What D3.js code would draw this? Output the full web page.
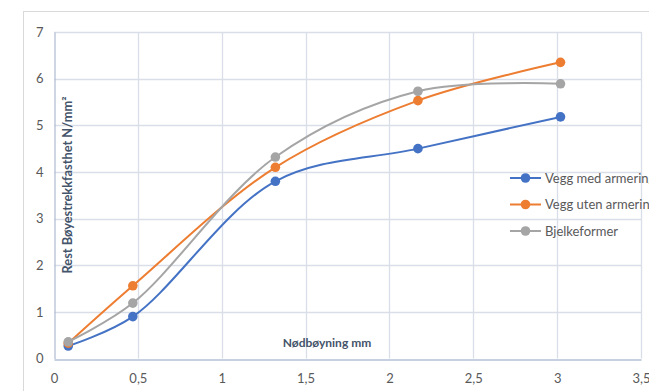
<!DOCTYPE html>
<html><head><meta charset="utf-8">
<script src="https://cdn.jsdelivr.net/npm/d3@7"></script>
<style>
html,body{margin:0;padding:0;background:#fff;overflow:hidden}
svg{display:block;font-family:Lato,"Open Sans",sans-serif}
</style></head>
<body>
<svg id="c" width="649" height="391"></svg>
<script>
const xValues = [0.085, 0.47, 1.32, 2.17, 3.02];
const seriesNames = ["Vegg med armering", "Vegg uten armering", "Bjelkeformer"];
const vegMed   = [0.27, 0.90, 3.80, 4.50, 5.18];
const vegUten  = [0.33, 1.56, 4.10, 5.53, 6.35];
const bjelke   = [0.36, 1.19, 4.32, 5.73, 5.89];
const xTicks = [0, 0.5, 1, 1.5, 2, 2.5, 3, 3.5];
const yTicks = [0, 1, 2, 3, 4, 5, 6, 7];
const colors = ["#4472C4", "#ED7D31", "#A5A5A5"];
const xTitle = "Nødbøyning mm";
const yTitle = "Rest Bøyestrekkfasthet N/mm²";

const svg = d3.select("#c");
const x = d3.scaleLinear().domain([0, 3.5]).range([54, 641]);
const y = d3.scaleLinear().domain([0, 7]).range([358.6, 32]);

// outer chart border
svg.append("rect").attr("x", 23.5).attr("y", 11.5).attr("width", 700).attr("height", 500)
  .attr("fill", "none").attr("stroke", "#D9D9D9");

// gridlines
svg.append("g").selectAll("line").data(yTicks.slice(1)).join("line")
  .attr("x1", x(0)).attr("x2", x(3.5)).attr("y1", d => Math.round(y(d)) + 0.5).attr("y2", d => Math.round(y(d)) + 0.5)
  .attr("stroke", "#D9DEE8").attr("stroke-width", 1.3);
svg.append("g").selectAll("line").data(xTicks.slice(1)).join("line")
  .attr("y1", y(0)).attr("y2", y(7)).attr("x1", d => Math.round(x(d)) + 0.5).attr("x2", d => Math.round(x(d)) + 0.5)
  .attr("stroke", "#D9DEE8").attr("stroke-width", 1.3);

// axes via d3 axis
const xAxis = svg.append("g").attr("transform", `translate(0,${Math.round(y(0)) + 0.5})`)
  .call(d3.axisBottom(x).tickValues(xTicks).tickSize(0).tickPadding(14)
    .tickFormat(d => String(d).replace(".", ",")));
xAxis.select(".domain").attr("stroke", "#B4C0D6").attr("stroke-width", 1.3);
xAxis.selectAll("text").attr("fill", "#595959").attr("font-size", 13).attr("font-family", "Lato,sans-serif");

const yAxis = svg.append("g").attr("transform", `translate(${Math.round(x(0)) + 0.5},0)`)
  .call(d3.axisLeft(y).tickValues(yTicks).tickSize(0).tickPadding(11).tickFormat(d => String(d)));
yAxis.select(".domain").attr("stroke", "#B4C0D6").attr("stroke-width", 1.3);
yAxis.selectAll("text").attr("fill", "#595959").attr("font-size", 13).attr("font-family", "Lato,sans-serif");

// axis titles
svg.append("text").attr("x", 327).attr("y", 347).attr("text-anchor", "middle")
  .attr("font-size", 12).attr("font-weight", "bold").attr("fill", "#44546A").text(xTitle);
svg.append("text").attr("transform", "translate(72,185) rotate(-90)").attr("text-anchor", "middle")
  .attr("font-size", 12.8).attr("font-weight", "bold").attr("fill", "#44546A").text(yTitle);

// series
const data = [vegMed, vegUten, bjelke];
const line = d3.line().x((d, i) => x(xValues[i])).y(d => y(d)).curve(d3.curveCatmullRom.alpha(0.5));
data.forEach((vals, k) => {
  svg.append("path").attr("d", line(vals)).attr("fill", "none")
    .attr("stroke", colors[k]).attr("stroke-width", 2);
});
data.forEach((vals, k) => {
  svg.append("g").selectAll("circle").data(vals).join("circle")
    .attr("cx", (d, i) => x(xValues[i])).attr("cy", d => y(d)).attr("r", 4.8)
    .attr("fill", colors[k]);
});

// legend
const lg = svg.append("g");
seriesNames.forEach((name, k) => {
  const ly = 178 + k * 26.5;
  lg.append("line").attr("x1", 510).attr("x2", 541).attr("y1", ly).attr("y2", ly)
    .attr("stroke", colors[k]).attr("stroke-width", 2);
  lg.append("circle").attr("cx", 525.5).attr("cy", ly).attr("r", 4.8).attr("fill", colors[k]);
  lg.append("text").attr("x", 545).attr("y", ly + 4.5).attr("font-size", 13)
    .attr("fill", "#595959").text(name);
});
</script>
</body></html>
